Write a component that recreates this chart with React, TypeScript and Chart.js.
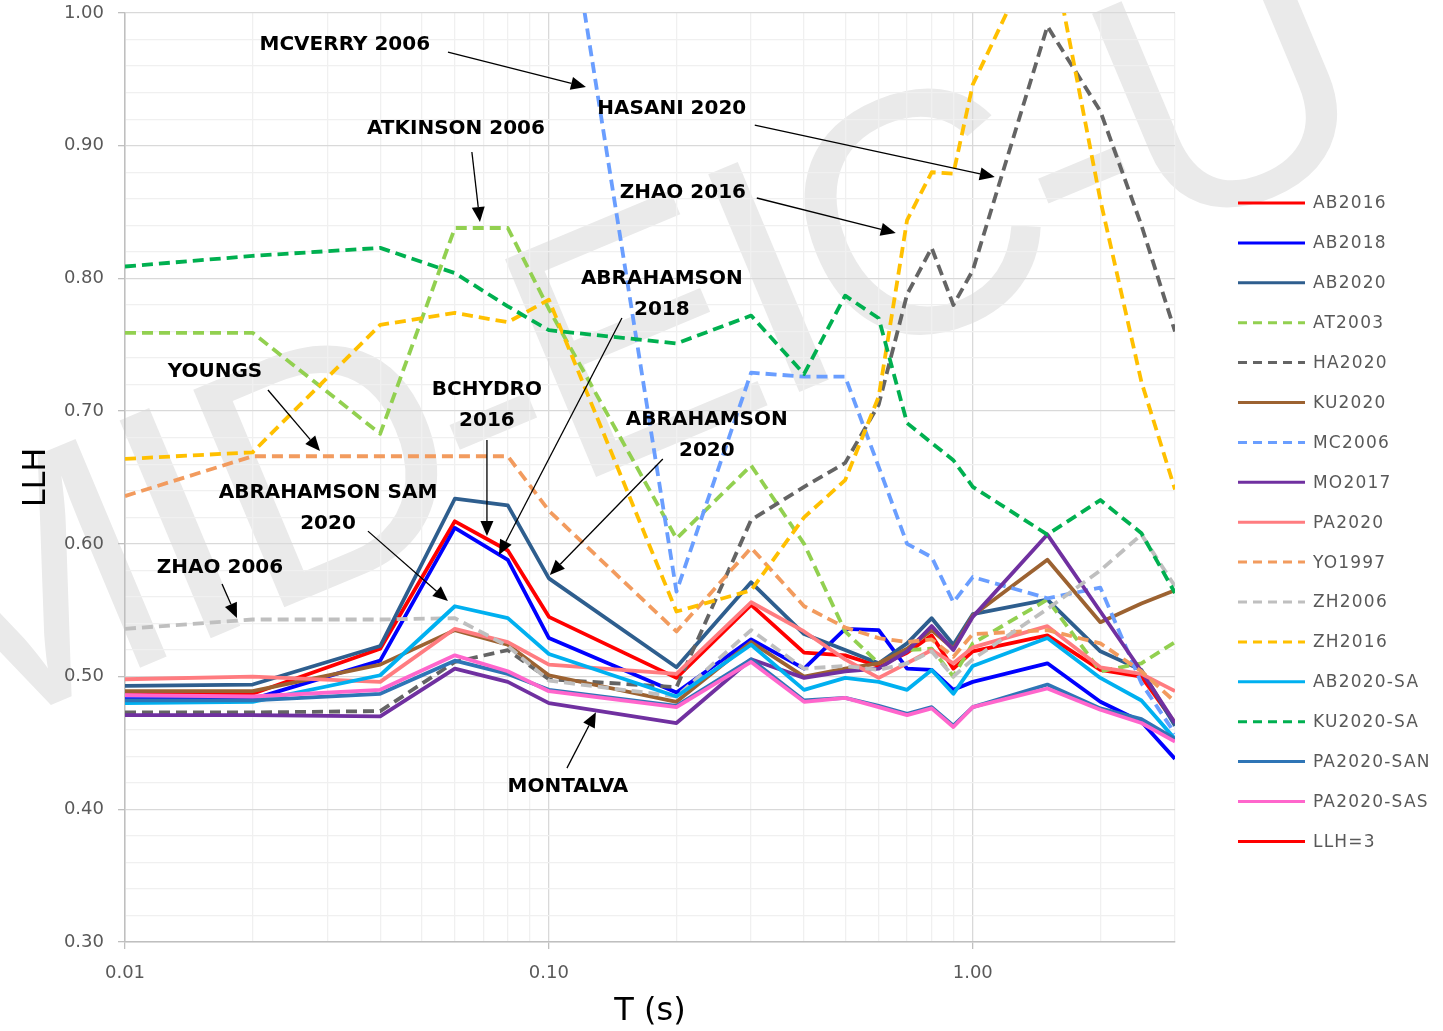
import { useEffect, useRef } from "react";
import { Chart, registerables } from "chart.js";

Chart.register(...registerables);

// ---- data -------------------------------------------------------------
const PERIODS = [0.01, 0.02, 0.04, 0.06, 0.08, 0.1, 0.2, 0.3, 0.4, 0.5, 0.6, 0.7, 0.8, 0.9, 1.0, 1.5, 2.0, 2.5, 3.0];

const AB2016 = [0.486, 0.487, 0.521, 0.617, 0.595, 0.545, 0.499, 0.554, 0.518, 0.516, 0.508, 0.518, 0.531, 0.506, 0.519, 0.531, 0.505, 0.500, 0.465];
const AB2018 = [0.483, 0.483, 0.512, 0.612, 0.588, 0.529, 0.488, 0.528, 0.506, 0.536, 0.535, 0.506, 0.505, 0.490, 0.496, 0.510, 0.481, 0.466, 0.438];
const AB2020 = [0.493, 0.494, 0.523, 0.634, 0.629, 0.574, 0.507, 0.571, 0.532, 0.520, 0.510, 0.525, 0.544, 0.524, 0.547, 0.558, 0.519, 0.505, 0.463];
const AT2003 = [0.759, 0.759, 0.683, 0.838, 0.838, 0.777, 0.604, 0.659, 0.600, 0.534, 0.510, 0.520, 0.521, 0.500, 0.525, 0.558, 0.504, 0.510, 0.526];
const HA2020 = [0.473, 0.473, 0.474, 0.511, 0.520, 0.498, 0.492, 0.618, 0.643, 0.661, 0.705, 0.788, 0.823, 0.780, 0.806, 0.990, 0.926, 0.840, 0.760];
const KU2020 = [0.489, 0.489, 0.509, 0.535, 0.524, 0.501, 0.481, 0.526, 0.500, 0.506, 0.510, 0.521, 0.535, 0.521, 0.546, 0.588, 0.541, 0.555, 0.565];
const MC2006 = [1.30, 1.30, 1.28, 1.25, 1.22, 1.17, 0.564, 0.729, 0.726, 0.726, 0.658, 0.600, 0.590, 0.556, 0.575, 0.559, 0.567, 0.495, 0.457];
const MO2017 = [0.471, 0.471, 0.470, 0.506, 0.496, 0.480, 0.465, 0.513, 0.499, 0.504, 0.506, 0.519, 0.538, 0.520, 0.545, 0.607, 0.549, 0.504, 0.465];
const PA2020 = [0.498, 0.500, 0.496, 0.536, 0.526, 0.509, 0.502, 0.556, 0.534, 0.513, 0.499, 0.510, 0.520, 0.510, 0.522, 0.538, 0.507, 0.502, 0.489];
const YO1997 = [0.636, 0.666, 0.666, 0.666, 0.666, 0.625, 0.534, 0.597, 0.553, 0.537, 0.529, 0.526, 0.528, 0.515, 0.532, 0.535, 0.525, 0.504, 0.481];
const ZH2006 = [0.536, 0.543, 0.543, 0.544, 0.523, 0.497, 0.485, 0.535, 0.506, 0.508, 0.505, 0.510, 0.519, 0.500, 0.513, 0.551, 0.580, 0.607, 0.568];
const ZH2016 = [0.664, 0.669, 0.765, 0.774, 0.767, 0.784, 0.549, 0.565, 0.620, 0.648, 0.711, 0.844, 0.880, 0.879, 0.946, 1.065, 0.859, 0.722, 0.641];
const AB2020_SA = [0.480, 0.481, 0.501, 0.553, 0.544, 0.517, 0.485, 0.524, 0.490, 0.499, 0.496, 0.490, 0.505, 0.487, 0.508, 0.529, 0.499, 0.482, 0.453];
const KU2020_SA = [0.809, 0.817, 0.823, 0.804, 0.779, 0.761, 0.751, 0.772, 0.728, 0.787, 0.770, 0.691, 0.676, 0.663, 0.643, 0.607, 0.633, 0.608, 0.563];
const PA2020_SAN = [0.482, 0.482, 0.487, 0.512, 0.502, 0.490, 0.478, 0.513, 0.482, 0.484, 0.478, 0.472, 0.477, 0.463, 0.477, 0.494, 0.476, 0.468, 0.453];
const PA2020_SAS = [0.486, 0.485, 0.490, 0.516, 0.504, 0.489, 0.477, 0.511, 0.481, 0.484, 0.477, 0.471, 0.476, 0.462, 0.477, 0.491, 0.475, 0.465, 0.451];
const LLH3: number[] = [];

const SERIES_NAMES = ["AB2016", "AB2018", "AB2020", "AT2003", "HA2020", "KU2020", "MC2006", "MO2017", "PA2020", "YO1997", "ZH2006", "ZH2016", "AB2020-SA", "KU2020-SA", "PA2020-SAN", "PA2020-SAS", "LLH=3"];
const SERIES_VALUES = [AB2016, AB2018, AB2020, AT2003, HA2020, KU2020, MC2006, MO2017, PA2020, YO1997, ZH2006, ZH2016, AB2020_SA, KU2020_SA, PA2020_SAN, PA2020_SAS, LLH3];

// ---- styles -----------------------------------------------------------
const SERIES_COLORS = ["#FF0000", "#0000FF", "#2E5E8E", "#92D050", "#646464", "#9C6231", "#6A9EFF", "#7030A0", "#FF7C80", "#F29B5E", "#BFBFBF", "#FFC000", "#00B0F0", "#00B050", "#2E75B6", "#FF66CC", "#FF0000"];
const SERIES_DASHED = [false, false, false, true, true, false, true, false, false, true, true, true, false, true, false, false, false];

const X_LABELLED = [0.01, 0.1, 1];
const X_LABEL_TEXT = ["0.01", "0.10", "1.00"];

const ANNOTATIONS = [
  { text: ["MCVERRY 2006"], at: [0.0330, 0.9759], from: [0.0578, 0.9706], to: [0.1223, 0.9442] },
  { text: ["HASANI 2020"], at: [0.1950, 0.9277], from: [0.3060, 0.9156], to: [1.127, 0.8764] },
  { text: ["ATKINSON 2006"], at: [0.06035, 0.9126], from: [0.06582, 0.8953], to: [0.06877, 0.8425] },
  { text: ["ZHAO 2016"], at: [0.2070, 0.8644], from: [0.3094, 0.8606], to: [0.6582, 0.8342] },
  { text: ["ABRAHAMSON", "2018"], at: [0.1847, 0.7995], from: [0.1487, 0.7702], to: [0.07624, 0.5916] },
  { text: ["YOUNGS"], at: [0.0163, 0.7295], from: [0.02174, 0.7159], to: [0.02884, 0.6699] },
  { text: ["BCHYDRO", "2016"], at: [0.07143, 0.7159], from: [0.07143, 0.6782], to: [0.07143, 0.6059] },
  { text: ["ABRAHAMSON", "2020"], at: [0.2358, 0.6933], from: [0.1857, 0.6639], to: [0.1005, 0.5765] },
  { text: ["ABRAHAMSON SAM", "2020"], at: [0.03012, 0.6383], from: [0.03742, 0.6096], to: [0.05778, 0.5569] },
  { text: ["ZHAO 2006"], at: [0.01675, 0.5818], from: [0.01694, 0.5697], to: [0.01837, 0.5441] },
  { text: ["MONTALVA"], at: [0.1109, 0.4167], from: [0.1103, 0.4310], to: [0.1291, 0.4732] },
];

const isMajorX = (v: number) => {
  if (!v) return false;
  const l = Math.log10(v);
  return Math.abs(l - Math.round(l)) < 1e-6;
};
const isMajorY = (v: number) => Math.abs(v * 10 - Math.round(v * 10)) < 1e-6;

function drawArrow(ctx: CanvasRenderingContext2D, x1: number, y1: number, x2: number, y2: number) {
  const ang = Math.atan2(y2 - y1, x2 - x1);
  const head = 15;
  const half = 6.5;
  const bx = x2 - head * Math.cos(ang);
  const by = y2 - head * Math.sin(ang);
  ctx.beginPath();
  ctx.moveTo(x1, y1);
  ctx.lineTo(bx, by);
  ctx.stroke();
  ctx.beginPath();
  ctx.moveTo(x2, y2);
  ctx.lineTo(bx + half * Math.sin(ang), by - half * Math.cos(ang));
  ctx.lineTo(bx - half * Math.sin(ang), by + half * Math.cos(ang));
  ctx.closePath();
  ctx.fill();
}

const overlayPlugin = {
  id: "overlay",
  beforeDraw(chart: any) {
    const ctx: CanvasRenderingContext2D = chart.ctx;
    ctx.save();
    ctx.fillStyle = "#FFFFFF";
    ctx.fillRect(0, 0, chart.width, chart.height);
    ctx.translate(-71, 756);
    ctx.rotate((-22.7 * Math.PI) / 180);
    ctx.font = '343px "Liberation Sans"';
    try {
      (ctx as any).letterSpacing = "-12px";
    } catch (e) {}
    ctx.fillStyle = "#EAEAEA";
    ctx.textBaseline = "alphabetic";
    ctx.textAlign = "left";
    ctx.fillText("MID-EIC-U", 0, 0);
    ctx.restore();
  },
  afterDraw(chart: any) {
    const ctx: CanvasRenderingContext2D = chart.ctx;
    const xs = chart.scales.x;
    const ys = chart.scales.y;
    ctx.save();
    // annotations
    ctx.fillStyle = "#000000";
    ctx.strokeStyle = "#000000";
    ctx.lineWidth = 1.3;
    ctx.font = 'bold 20px "DejaVu Sans"';
    ctx.textAlign = "center";
    ctx.textBaseline = "middle";
    for (const a of ANNOTATIONS) {
      const tx = xs.getPixelForValue(a.at[0]);
      const ty = ys.getPixelForValue(a.at[1]);
      a.text.forEach((line, i) => ctx.fillText(line, tx, ty + i * 31));
      drawArrow(
        ctx,
        xs.getPixelForValue(a.from[0]),
        ys.getPixelForValue(a.from[1]),
        xs.getPixelForValue(a.to[0]),
        ys.getPixelForValue(a.to[1])
      );
    }
    // legend
    const lx = chart.chartArea.right + 63;
    const top = 203;
    const step = 39.9;
    ctx.font = '17px "DejaVu Sans"';
    ctx.textAlign = "left";
    ctx.textBaseline = "middle";
    try {
      (ctx as any).letterSpacing = "1.2px";
    } catch (e) {}
    chart.data.datasets.forEach((ds: any, i: number) => {
      const y = top + i * step;
      ctx.strokeStyle = ds.borderColor;
      ctx.lineWidth = 3;
      ctx.setLineDash(ds.borderDash && ds.borderDash.length ? [9, 6] : []);
      ctx.beginPath();
      ctx.moveTo(lx, y);
      ctx.lineTo(lx + 67, y);
      ctx.stroke();
      ctx.setLineDash([]);
      ctx.fillStyle = "#595959";
      ctx.fillText(ds.label, lx + 75, y + 1);
    });
    ctx.restore();
  },
};

export default function App() {
  const ref = useRef<HTMLCanvasElement | null>(null);

  useEffect(() => {
    if (!ref.current) return;
    const n = SERIES_NAMES.length;
    const datasets = SERIES_NAMES.map((name, i) => ({
      label: name,
      data: SERIES_VALUES[i].map((v, k) => ({ x: PERIODS[k], y: v })),
      borderColor: SERIES_COLORS[i],
      backgroundColor: SERIES_COLORS[i],
      borderWidth: 3.8,
      borderDash: SERIES_DASHED[i] ? [11, 6] : [],
      borderJoinStyle: "round" as const,
      pointRadius: 0,
      pointHoverRadius: 0,
      fill: false,
      tension: 0,
      order: n - i,
    }));

    const chart = new Chart(ref.current, {
      type: "line",
      data: { datasets },
      options: {
        animation: false,
        responsive: false,
        devicePixelRatio: 1,
        events: [],
        layout: { padding: { left: 0, top: 13, right: 268, bottom: 0 } },
        plugins: { legend: { display: false }, tooltip: { enabled: false } },
        scales: {
          x: {
            type: "logarithmic",
            min: 0.01,
            max: 3,
            afterBuildTicks: (s: any) => {
              const vals: number[] = [];
              [0.01, 0.1, 1].forEach((d) => {
                for (let m = 1; m <= 9; m++) {
                  const v = Math.round(m * d * 1000) / 1000;
                  if (v <= 3 + 1e-9) vals.push(v);
                }
              });
              s.ticks = vals.map((v) => ({ value: v }));
            },
            afterFit: (s: any) => {
              s.height = 89;
              s.paddingLeft = 0;
              s.paddingRight = 0;
            },
            ticks: {
              autoSkip: false,
              maxRotation: 0,
              minRotation: 0,
              padding: 14,
              color: "#595959",
              font: { family: "DejaVu Sans", size: 18 },
              callback: (v: any) => {
                const idx = X_LABELLED.findIndex((t) => Math.abs(t - Number(v)) < 1e-9);
                return idx >= 0 ? X_LABEL_TEXT[idx] : "";
              },
            },
            grid: {
              color: (c: any) => (isMajorX(c.tick?.value) ? "#D9D9D9" : "#F0F0F0"),
              tickColor: (c: any) => (isMajorX(c.tick?.value) ? "#BFBFBF" : "rgba(0,0,0,0)"),
              tickLength: 7,
              lineWidth: 1.3,
            },
            border: { color: "#BFBFBF", width: 1.5 },
            title: {
              display: true,
              text: "T (s)",
              color: "#000000",
              font: { family: "DejaVu Sans", size: 32 },
              padding: { top: 0, bottom: 0 },
            },
          },
          y: {
            type: "linear",
            min: 0.3,
            max: 1.0,
            afterBuildTicks: (s: any) => {
              const vals: number[] = [];
              for (let i = 0; i <= 35; i++) vals.push(Math.round((0.3 + i * 0.02) * 100) / 100);
              s.ticks = vals.map((v) => ({ value: v }));
            },
            afterFit: (s: any) => {
              s.width = 125;
              s.paddingTop = 0;
              s.paddingBottom = 0;
            },
            ticks: {
              autoSkip: false,
              padding: 14,
              color: "#595959",
              font: { family: "DejaVu Sans", size: 18 },
              callback: (v: any) => (isMajorY(Number(v)) ? Number(v).toFixed(2) : ""),
            },
            grid: {
              color: (c: any) => (isMajorY(c.tick?.value ?? 0.31) ? "#D9D9D9" : "#F0F0F0"),
              tickColor: (c: any) => (isMajorY(c.tick?.value ?? 0.31) ? "#BFBFBF" : "rgba(0,0,0,0)"),
              tickLength: 7,
              lineWidth: 1.3,
            },
            border: { color: "#BFBFBF", width: 1.5 },
            title: {
              display: true,
              text: "LLH",
              color: "#000000",
              font: { family: "DejaVu Sans", size: 32 },
              padding: { top: 17, bottom: 0 },
            },
          },
        },
      },
      plugins: [overlayPlugin],
    } as any);

    return () => chart.destroy();
  }, []);

  return (
    <div style={{ position: "absolute", left: 0, top: 0, width: 1443, height: 1031 }}>
      <canvas ref={ref} width={1443} height={1031} style={{ display: "block" }} />
    </div>
  );
}
